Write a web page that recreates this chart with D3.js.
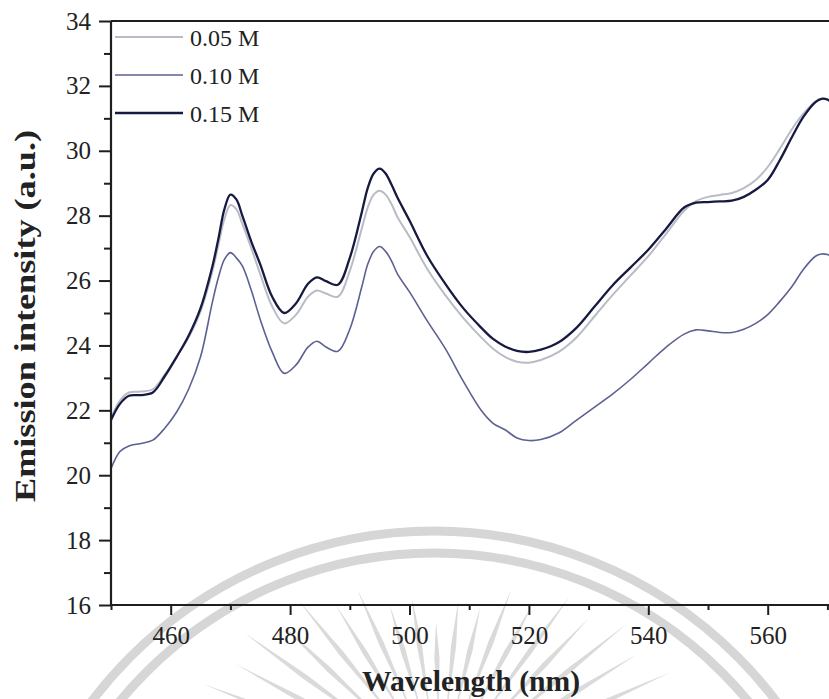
<!DOCTYPE html>
<html>
<head>
<meta charset="utf-8">
<script src="https://cdn.jsdelivr.net/npm/d3@7"></script>
<style>
  html, body { margin: 0; padding: 0; background: #fff; }
  svg { display: block; }
  text { font-family: "Liberation Serif", "Times New Roman", serif; fill: #222; }
</style>
</head>
<body>
<svg id="chart" width="829" height="699"></svg>
<script>
// Emission spectra for three concentrations
const wavelength = [450, 451.5, 453, 455, 457, 459, 461, 463, 465, 467,
  468, 469, 470, 471, 472, 473.5, 475, 477, 479, 481,
  483, 484.5, 486, 488, 490, 492, 493, 494, 495, 496,
  497, 498, 500, 503, 506, 509, 512, 514, 516, 518,
  520, 522, 525, 528, 531, 534, 537, 540, 543, 546,
  548, 550, 552, 554, 556, 558, 560, 562, 564, 566,
  568, 569, 570, 571, 572];

const int005 = [21.75, 22.3, 22.55, 22.58, 22.65, 23.1, 23.65, 24.25, 25.05, 26.3,
  27.1, 27.9, 28.33, 28.2, 27.75, 27.0, 26.2, 25.2, 24.68, 24.95,
  25.5, 25.69, 25.6, 25.5, 26.3, 27.6, 28.25, 28.65, 28.77, 28.65,
  28.35, 27.95, 27.35, 26.35, 25.55, 24.85, 24.25, 23.9, 23.65, 23.5,
  23.47, 23.55, 23.8, 24.25, 24.9, 25.55, 26.15, 26.75, 27.45, 28.15,
  28.45, 28.58, 28.64, 28.7, 28.85, 29.1, 29.5, 30.05, 30.65, 31.15,
  31.52, 31.6, 31.57, 31.45, 31.3];

const int010 = [20.2, 20.73, 20.9, 20.98, 21.08, 21.45, 21.95, 22.65, 23.65, 25.35,
  26.1, 26.65, 26.86, 26.7, 26.45, 25.7, 24.8, 23.8, 23.14, 23.4,
  23.95, 24.13, 23.95, 23.82, 24.5, 25.8, 26.5, 26.9, 27.05, 26.9,
  26.6, 26.2, 25.65, 24.75, 23.9, 22.9, 22.0, 21.6, 21.4, 21.15,
  21.07, 21.1, 21.3, 21.7, 22.1, 22.5, 22.95, 23.45, 23.95, 24.35,
  24.48, 24.45, 24.4, 24.4, 24.5, 24.68, 24.95, 25.35, 25.8, 26.35,
  26.75, 26.82, 26.8, 26.7, 26.55];

const int015 = [21.7, 22.2, 22.45, 22.47, 22.55, 23.05, 23.65, 24.3, 25.15, 26.45,
  27.3, 28.2, 28.65, 28.5, 28.0, 27.2, 26.5, 25.5, 25.0, 25.3,
  25.9, 26.1, 25.98, 25.87, 26.7, 28.1, 28.85, 29.3, 29.45, 29.3,
  28.95, 28.55, 27.85, 26.75, 25.9, 25.15, 24.55, 24.2, 23.97, 23.83,
  23.8, 23.87, 24.1, 24.55, 25.2, 25.85, 26.4, 26.95, 27.6, 28.25,
  28.4, 28.42, 28.44, 28.46, 28.58, 28.8, 29.1, 29.7, 30.4, 31.05,
  31.5, 31.6, 31.58, 31.45, 31.3];

const seriesNames = ["0.05 M", "0.10 M", "0.15 M"];
const seriesValues = [int005, int010, int015];

const xMajorTicks = [460, 480, 500, 520, 540, 560];
const xMinorTicks = [450, 470, 490, 510, 530, 550, 570];
const xTickLabels = ["460", "480", "500", "520", "540", "560"];
const yMajorTicks = [16, 18, 20, 22, 24, 26, 28, 30, 32, 34];
const yMinorTicks = [17, 19, 21, 23, 25, 27, 29, 31, 33];
const yTickLabels = ["16", "18", "20", "22", "24", "26", "28", "30", "32", "34"];

const xTitle = "Wavelength (nm)";
const yTitle = "Emission intensity (a.u.)";

// ---- layout and style ----
const colors = ["#b9bcc6", "#5d6191", "#161a40"];
const widths = [2, 1.6, 2.3];

const svg = d3.select("#chart");
const W = 829, H = 699;
const plotLeft = 111, plotTop = 21, plotBottom = 605;

svg.append("rect").attr("width", W).attr("height", H).attr("fill", "#fff");

const x = d3.scaleLinear().domain([450, 572]).range([plotLeft, plotLeft + 122 * 5.97]);
const y = d3.scaleLinear().domain([16, 34]).range([plotBottom, plotTop]);

// faint circular seal in the background
const seal = svg.append("g").attr("class", "seal");
const cx = 434, cy = 960;
[429, 407].forEach(r => {
  seal.append("circle").attr("cx", cx).attr("cy", cy).attr("r", r)
    .attr("fill", "none").attr("stroke", "#d6d6d6").attr("stroke-width", 9);
});
const rcx = 440, rcy = 775;
d3.range(-174, -4, 7.5).forEach((deg, i) => {
  const a = deg * Math.PI / 180;
  const tilt = Math.abs(Math.cos(a));
  const rOut = (i % 2 ? 150 : 165) + 95 * tilt;
  const rIn = 60;
  const half = 2.6;
  const px = -Math.sin(a), py = Math.cos(a);
  const p = (r, off) => [rcx + Math.cos(a) * r + px * off, rcy + Math.sin(a) * r + py * off];
  const pts = [p(rIn, 0), p((rIn + rOut) * 0.55, half), p(rOut, 0), p((rIn + rOut) * 0.55, -half)];
  seal.append("path").attr("d", "M" + pts.map(q => q.join(",")).join("L") + "Z")
    .attr("fill", "#dadada");
});

// spectra
const line = d3.line()
  .x((d, i) => x(wavelength[i]))
  .y(d => y(d))
  .curve(d3.curveCatmullRom.alpha(0.5));

svg.append("defs").append("clipPath").attr("id", "plotclip")
  .append("rect").attr("x", plotLeft).attr("y", plotTop).attr("width", W - plotLeft).attr("height", plotBottom - plotTop);

const plot = svg.append("g").attr("clip-path", "url(#plotclip)");
[0, 1, 2].forEach(k => {
  plot.append("path")
    .datum(seriesValues[k])
    .attr("d", line)
    .attr("fill", "none")
    .attr("stroke", colors[k])
    .attr("stroke-width", widths[k])
    .attr("stroke-linejoin", "round");
});

// axes
const axisColor = "#1e1e1e";
const xAxis = d3.axisBottom(x).tickValues(xMajorTicks).tickSize(10).tickPadding(11)
  .tickFormat((d, i) => xTickLabels[i]);
const xMinor = d3.axisBottom(x).tickValues(xMinorTicks).tickSize(5).tickFormat("");
const yAxis = d3.axisLeft(y).tickValues(yMajorTicks).tickSize(12).tickPadding(8)
  .tickFormat((d, i) => yTickLabels[i]);
const yMinor = d3.axisLeft(y).tickValues(yMinorTicks).tickSize(7).tickFormat("");

function styleAxis(g) {
  g.select(".domain").remove();
  g.selectAll("line").attr("stroke", axisColor).attr("stroke-width", 2);
  g.selectAll("text").attr("font-size", 25).attr("fill", "#222")
    .style("font-family", '"Liberation Serif", "Times New Roman", serif');
}

svg.append("g").attr("transform", `translate(0,${plotBottom})`).call(xMinor).call(styleAxis);
svg.append("g").attr("transform", `translate(0,${plotBottom})`).call(xAxis).call(styleAxis);
svg.append("g").attr("transform", `translate(${plotLeft},0)`).call(yMinor).call(styleAxis);
svg.append("g").attr("transform", `translate(${plotLeft},0)`).call(yAxis).call(styleAxis);

// frame lines: bottom, left, top
svg.append("line").attr("x1", plotLeft).attr("x2", W).attr("y1", plotBottom).attr("y2", plotBottom)
  .attr("stroke", axisColor).attr("stroke-width", 2.2);
svg.append("line").attr("x1", plotLeft).attr("x2", plotLeft).attr("y1", plotTop).attr("y2", plotBottom + 1)
  .attr("stroke", axisColor).attr("stroke-width", 2.2);
svg.append("line").attr("x1", plotLeft).attr("x2", W).attr("y1", plotTop).attr("y2", plotTop)
  .attr("stroke", axisColor).attr("stroke-width", 2.2);

// axis titles
svg.append("text")
  .attr("x", 471).attr("y", 691)
  .attr("text-anchor", "middle")
  .attr("font-size", 29).attr("font-weight", "bold")
  .attr("textLength", 218).attr("lengthAdjust", "spacingAndGlyphs")
  .text(xTitle);

svg.append("text")
  .attr("transform", "translate(35,316) rotate(-90)")
  .attr("text-anchor", "middle")
  .attr("font-size", 29).attr("font-weight", "bold")
  .attr("textLength", 372).attr("lengthAdjust", "spacingAndGlyphs")
  .text(yTitle);

// legend
const legendY = [37, 75, 113];
const legend = svg.append("g");
seriesNames.forEach((name, k) => {
  legend.append("line")
    .attr("x1", 115).attr("x2", 183).attr("y1", legendY[k]).attr("y2", legendY[k])
    .attr("stroke", colors[k]).attr("stroke-width", widths[k]);
  legend.append("text")
    .attr("x", 190).attr("y", legendY[k] + 8.5)
    .attr("font-size", 24)
    .text(name);
});
</script>
</body>
</html>
